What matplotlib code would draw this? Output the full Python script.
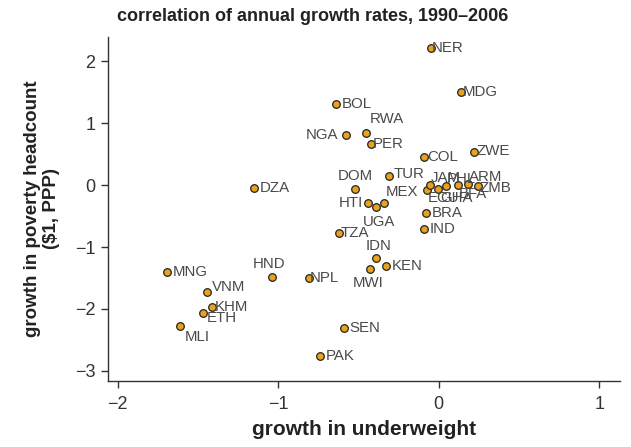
import matplotlib
matplotlib.use("Agg")
import matplotlib.pyplot as plt

# country codes and growth rates
codes = ["NER", "MDG", "BOL", "RWA", "NGA", "PER", "COL", "ZWE", "TUR", "DOM",
         "DZA", "HTI", "UGA", "MEX", "ECU", "JAM", "GHA", "PHL", "BFA", "ARM",
         "ZMB", "BRA", "IND", "TZA", "IDN", "KEN", "MWI", "NPL", "HND", "MNG",
         "VNM", "KHM", "ETH", "MLI", "SEN", "PAK"]
underweight = [-0.05, 0.14, -0.64, -0.45, -0.58, -0.42, -0.09, 0.22, -0.31, -0.52,
               -1.15, -0.44, -0.39, -0.34, -0.075, -0.056, -0.006, 0.044, 0.118, 0.181,
               0.243, -0.08, -0.09, -0.62, -0.39, -0.33, -0.43, -0.81, -1.04, -1.69,
               -1.44, -1.41, -1.47, -1.61, -0.59, -0.74]
poverty = [2.21, 1.50, 1.31, 0.84, 0.81, 0.66, 0.45, 0.53, 0.15, -0.07,
           -0.05, -0.29, -0.35, -0.29, -0.08, 0.0, -0.065, -0.016, 0.0, 0.016,
           -0.016, -0.45, -0.71, -0.77, -1.18, -1.31, -1.35, -1.50, -1.48, -1.40,
           -1.73, -1.97, -2.06, -2.27, -2.31, -2.76]

# label placement (offset in points, alignment); default is to the right
right = ((4, 0), "left", "center")
place = {
    "RWA": ((2, 5), "left", "bottom"),
    "NGA": ((-5, 0), "right", "center"),
    "DOM": ((0, 5), "center", "bottom"),
    "HTI": ((-4, 0), "right", "center"),
    "UGA": ((2, -6), "center", "top"),
    "MEX": ((1, 3), "left", "bottom"),
    "ECU": ((1, -1), "left", "top"),
    "JAM": ((1, 0), "left", "bottom"),
    "GHA": ((2, -1), "left", "top"),
    "PHL": ((1, 0), "left", "bottom"),
    "BFA": ((1, -1), "left", "top"),
    "ARM": ((1, 0), "left", "bottom"),
    "ZMB": ((1, -1), "left", "center"),
    "TUR": ((3, 1), "left", "center"),
    "IDN": ((2, 4), "center", "bottom"),
    "MWI": ((-1, -5), "center", "top"),
    "HND": ((-2, 4), "center", "bottom"),
    "VNM": ((3, 4), "left", "center"),
    "ETH": ((3, -4), "left", "center"),
    "MLI": ((3, -3), "left", "top"),
    "NER": ((1, 0), "left", "center"),
    "MDG": ((1, 0), "left", "center"),
    "PER": ((1, 0), "left", "center"),
    "KHM": ((2, 0), "left", "center"),
    "TZA": ((1, 0), "left", "center"),
    "NPL": ((1, 0), "left", "center"),
    "COL": ((2, 0), "left", "center"),
    "ZWE": ((2, 1), "left", "center"),
}

plt.rcParams["font.family"] = ["Liberation Sans", "DejaVu Sans"]

fig = plt.figure(figsize=(6.31, 4.47), dpi=100)
ax = fig.add_axes([0.171, 0.148, 0.812, 0.769])

ax.scatter(underweight, poverty, s=30, color="#E8A21C", edgecolor="#222222",
           linewidth=0.9, zorder=3)

for code, x, y in zip(codes, underweight, poverty):
    off, ha, va = place.get(code, right)
    ax.annotate(code, (x, y), xytext=off, textcoords="offset points",
                ha=ha, va=va, fontsize=10.8, color="#4a4a4a", zorder=4)

ax.set_xlim(-2.06, 1.13)
ax.set_ylim(-3.16, 2.39)
ax.set_xticks([-2, -1, 0, 1])
ax.set_yticks([-3, -2, -1, 0, 1, 2])
ax.set_xticklabels(["\u22122", "\u22121", "0", "1"])
ax.set_yticklabels(["\u22123", "\u22122", "\u22121", "0", "1", "2"])

for side in ["top", "right"]:
    ax.spines[side].set_visible(False)
for side in ["left", "bottom"]:
    ax.spines[side].set_color("#333333")
    ax.spines[side].set_linewidth(1.0)
ax.tick_params(direction="out", length=5, width=1, color="#333333",
               labelsize=13, labelcolor="#333333", pad=4)
ax.tick_params(axis="x", pad=6)

ax.set_xlabel("growth in underweight", fontsize=15, fontweight="bold",
              color="#222222", labelpad=5)
ax.set_ylabel("growth in poverty headcount\n($1, PPP)", fontsize=13.5,
              fontweight="bold", color="#222222", labelpad=11, linespacing=1.1)

fig.text(0.495, 0.963, "correlation of annual growth rates, 1990\u20132006",
         ha="center", va="center", fontsize=13, fontweight="bold",
         color="#222222", family=["Liberation Sans Narrow", "Liberation Sans"])

fig.savefig("out.png", dpi=100)
